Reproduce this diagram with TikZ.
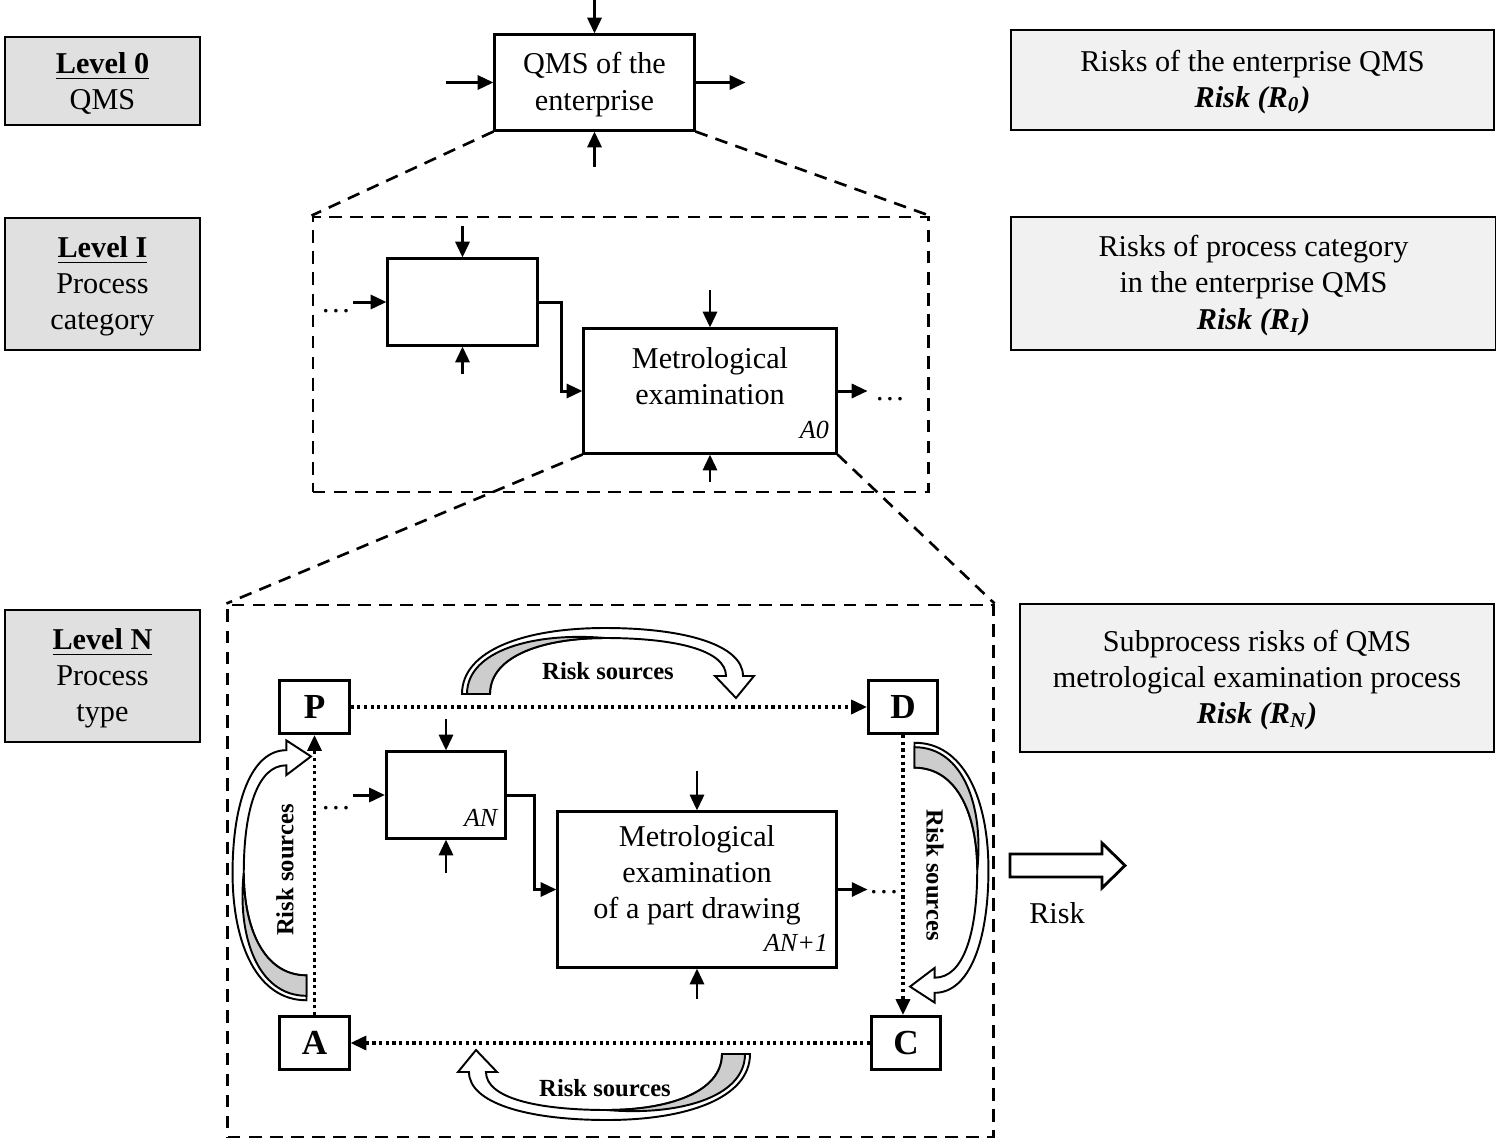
\documentclass[tikz,border=0pt]{standalone}
\usepackage{fontspec}
\setmainfont{Liberation Serif}
\usepackage{tikz}
\usetikzlibrary{arrows.meta, positioning, calc}
\definecolor{cLevel}{RGB}{224,224,224}
\definecolor{cRisk}{RGB}{241,241,241}
\definecolor{cTail}{RGB}{205,205,205}
\tikzset{
	lvlbox/.style={draw, line width=0.5pt, fill=cLevel, align=center, inner ysep=1pt, minimum width=1.95cm},
	riskbox/.style={draw, line width=0.5pt, fill=cRisk, align=center},
	proc/.style={draw, line width=0.85pt, fill=white, align=center, inner sep=0pt},
	pdca/.style={draw, line width=0.85pt, fill=white, minimum width=0.69cm, minimum height=0.53cm, font=\bfseries},
	zoomframe/.style={draw, dash pattern=on 3.6pt off 2.4pt, line width=0.75pt},
	zoomline/.style={dash pattern=on 3.6pt off 2.4pt, line width=0.75pt},
	flowarrow/.style={-{Triangle[length=4.5pt, width=4pt]}, line width=0.85pt},
	cyclearrow/.style={-{Triangle[length=4.5pt, width=4pt]}, densely dotted, line width=0.9pt},
	boxtag/.style={font=\fontsize{7.4}{8}\selectfont\itshape, anchor=base east, inner sep=0pt},
	srclabel/.style={font=\fontsize{7}{8}\selectfont\bfseries},
	% curved block arrow lying over its chord, tail left, head right
	riskarc/.pic={
		\draw[fill=white, line width=0.55pt] (-143,4) .. controls (-143,-40) and (-80,-62) .. (0,-62)
			.. controls (80,-62) and (138,-45) .. (138,-14) -- (149,-14) -- (131,8) -- (110,-14) -- (121,-14)
			.. controls (121,-40) and (70,-52) .. (0,-52) .. controls (-60,-52) and (-115,-35) .. (-115,4) -- cycle;
		\draw[fill=cTail, line width=0.55pt] (-138,4) .. controls (-138,-40) and (-70,-58) .. (0,-52)
			.. controls (-60,-52) and (-115,-35) .. (-115,4) -- cycle;
	},
}

\begin{document}
\begin{tikzpicture}[x=0.01cm, y=-0.01cm, font=\fontsize{8.6}{10.3}\selectfont]
	\useasboundingbox (0,0) rectangle (1496,1139);

	% levels and risks
	\node[lvlbox, minimum height=0.88cm] (lev0) at (102.5,81) {\strut\underline{\textbf{Level 0}}\\QMS};
	\node[lvlbox, minimum height=1.32cm] (lev1) at (102.5,284) {\strut\underline{\textbf{Level I}}\\Process\\category};
	\node[lvlbox, minimum height=1.32cm] (levN) at (102.5,676) {\strut\underline{\textbf{Level N}}\\Process\\type};
	\node[riskbox, minimum width=4.83cm, minimum height=1.0cm] (risk0) at (1252.5,80)
		{\strut Risks of the enterprise QMS\\\textbf{\textit{Risk (R\textsubscript{0})}}};
	\node[riskbox, minimum width=4.85cm, minimum height=1.33cm] (riskI) at (1253.5,283.5)
		{\strut Risks of process category\\in the enterprise QMS\\\textbf{\textit{Risk (R\textsubscript{I})}}};
	\node[riskbox, minimum width=4.74cm, minimum height=1.48cm] (riskN) at (1257,678)
		{\strut Subprocess risks of QMS\\metrological examination process\\\textbf{\textit{Risk (R\textsubscript{N})}}};

	% level 0
	\node[proc, minimum width=1.99cm, minimum height=0.95cm] (qms) at (594.5,82.5) {\strut QMS of the\\enterprise};
	\draw[flowarrow] ($(qms.north)+(0,-35)$) -- (qms.north);
	\draw[flowarrow] ($(qms.south)+(0,35)$) -- (qms.south);
	\draw[flowarrow] ($(qms.west)+(-47,0)$) -- (qms.west);
	\draw[flowarrow] (qms.east) -- ++(50,0);

	% level I
	\node[zoomframe, minimum width=6.15cm, minimum height=2.75cm] (fI) at (620.5,354.5) {};
	\draw[zoomline] (qms.south west) -- (fI.north west);
	\draw[zoomline] (qms.south east) -- (fI.north east);
	\node[proc, minimum width=1.49cm, minimum height=0.86cm] (blkI) at (462.5,302) {};
	\node[proc, minimum width=2.52cm, minimum height=1.24cm] (me0) at (710,391) {};
	\node[align=center] (me0txt) at ($(me0)+(0,-15)$) {Metrological\\examination};
	\node[boxtag] (me0tag) at ($(me0.south east)+(-8,-16)$) {A0};
	\node (dotsIl) at (336,311) {\dots};
	\node (dotsIr) at (890,399) {\dots};
	\draw[flowarrow] ($(blkI.north)+(0,-31)$) -- (blkI.north);
	\draw[flowarrow] ($(blkI.south)+(0,27)$) -- (blkI.south);
	\draw[flowarrow] ($(blkI.west)+(-33,0)$) -- (blkI.west);
	\draw[flowarrow] (blkI.east) -- ++(23,0) |- (me0.west);
	\draw[flowarrow] ($(me0.north)+(0,-37)$) -- (me0.north);
	\draw[flowarrow] ($(me0.south)+(0,27)$) -- (me0.south);
	\draw[flowarrow] (me0.east) -- ++(30,0);

	% level N
	\node[zoomframe, minimum width=7.65cm, minimum height=5.32cm] (fN) at (610.5,871) {};
	\draw[zoomline] (me0.south west) -- (fN.north west);
	\draw[zoomline] (me0.south east) -- (fN.north east);

	\begin{scope}[shift={(605,690)}]
		\pic[transform shape] {riskarc};
	\end{scope}
	\begin{scope}[shift={(919,870)}, rotate=-90, xscale=0.89, yscale=1.12]
		\pic[transform shape] {riskarc};
	\end{scope}
	\begin{scope}[shift={(607,1058)}, rotate=180]
		\pic[transform shape] {riskarc};
	\end{scope}
	\begin{scope}[shift={(302,873)}, rotate=90, xscale=0.89, yscale=1.12]
		\pic[transform shape] {riskarc};
	\end{scope}
	\node[srclabel] (srcP) at (608,671) {Risk sources};
	\node[srclabel, rotate=-90] (srcD) at (935,875) {Risk sources};
	\node[srclabel] (srcC) at (605,1088) {Risk sources};
	\node[srclabel, rotate=90] (srcA) at (285,870) {Risk sources};

	\node[pdca] (P) at (314.5,707) {P};
	\node[pdca] (D) at (903,707) {D};
	\node[pdca] (C) at (906,1043) {C};
	\node[pdca] (A) at (314.5,1043) {A};
	\draw[cyclearrow] (P) -- (D);
	\draw[cyclearrow] (D.south) -- (D.south |- C.north);
	\draw[cyclearrow] (C) -- (A);
	\draw[cyclearrow] (A) -- (P);

	\node[proc, minimum width=1.19cm, minimum height=0.86cm] (an) at (446,795) {};
	\node[boxtag] (antag) at ($(an.south east)+(-9,-13)$) {AN};
	\node[proc, minimum width=2.78cm, minimum height=1.55cm] (an1) at (697,889.5) {};
	\node[align=center] (an1txt) at ($(an1)+(0,-14)$) {Metrological\\examination\\of a part drawing};
	\node[boxtag] (an1tag) at ($(an1.south east)+(-9,-17)$) {AN+1};
	\node (dotsNl) at (336,808) {\dots};
	\node (dotsNr) at (884,892) {\dots};
	\draw[flowarrow] ($(an.north)+(0,-31)$) -- (an.north);
	\draw[flowarrow] ($(an.south)+(0,33)$) -- (an.south);
	\draw[flowarrow] ($(an.west)+(-32,0)$) -- (an.west);
	\draw[flowarrow] (an.east) -- ++(27,0) |- (an1.west);
	\draw[flowarrow] ($(an1.north)+(0,-39)$) -- (an1.north);
	\draw[flowarrow] ($(an1.south)+(0,30)$) -- (an1.south);
	\draw[flowarrow] (an1.east) -- ++(30,0);

	% overall risk
	\draw[line width=0.8pt] (1010,854) -- (1102,854) -- (1102,843) -- (1125,865.5) -- (1102,888) -- (1102,877) -- (1010,877) -- cycle;
	\node (risklbl) at (1057,913) {Risk};
\end{tikzpicture}
\end{document}
